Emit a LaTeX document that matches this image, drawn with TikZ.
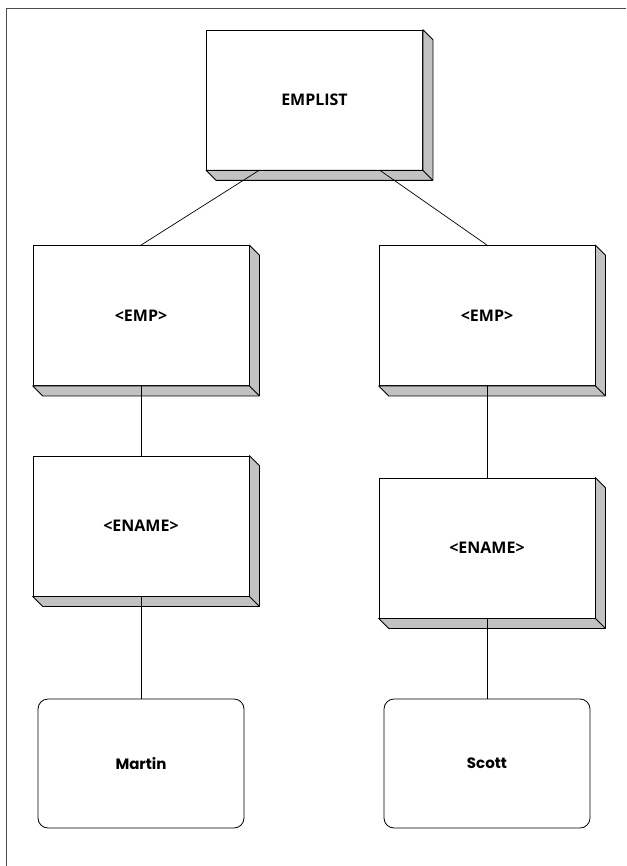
\documentclass[tikz,border=0pt]{standalone}
\usepackage{fontspec}
\setmainfont{Open Sans}
\newfontfamily\leaffont{Poppins}
\begin{document}
\begin{tikzpicture}[x=1pt,y=-1pt,
  face/.style={draw=black,fill=white,line width=0.8pt,inner sep=0pt,
    minimum width=216pt,minimum height=140pt,font=\fontsize{16}{18}\selectfont\bfseries},
  leaf/.style={draw=black,fill=white,line width=0.8pt,inner sep=0pt,rounded corners=10pt,
    minimum width=206pt,minimum height=129pt,font=\leaffont\fontsize{15}{17}\selectfont\bfseries},
  side/.style={draw=black,fill=black!24,line width=0.8pt,line join=round},
  link/.style={draw=black,line width=0.7pt},
  frame/.style={draw=black!70,line width=1.8pt}]
\useasboundingbox (0,0) rectangle (626,866);
\draw[frame] (6.5,866) -- (6.5,8.5) -- (626,8.5);
% boxes
\node[face] (top) at (314.5,100) {EMPLIST};
\node[face] (e1) at (141,315.5) {<EMP>};
\node[face] (e2) at (487,315.5) {<EMP>};
\node[face] (n1) at (141,526) {<ENAME>};
\node[face] (n2) at (487,548) {<ENAME>};
\node[leaf] (m1) at (141,763.5) {Martin};
\node[leaf] (m2) at (487,763.5) {Scott};
% 3D sides
\foreach \n in {top,e1,e2,n1,n2}{
  \path[side] (\n.south west) -- ([shift={(10,10)}]\n.south west) -- ([shift={(10,10)}]\n.south east)
    -- ([shift={(10,10)}]\n.north east) -- (\n.north east) -- (\n.south east) -- cycle;
  \draw[side,fill=none] (\n.south east) -- ([shift={(10,10)}]\n.south east);
}
% connectors
\draw[link] ([xshift=-55.5pt]top.south) -- (e1.north);
\draw[link] ([xshift=65.5pt]top.south) -- (e2.north);
\draw[link] (e1.south) -- (n1.north);
\draw[link] (e2.south) -- (n2.north);
\draw[link] (n1.south) -- (m1.north);
\draw[link] (n2.south) -- (m2.north);
\end{tikzpicture}
\end{document}
